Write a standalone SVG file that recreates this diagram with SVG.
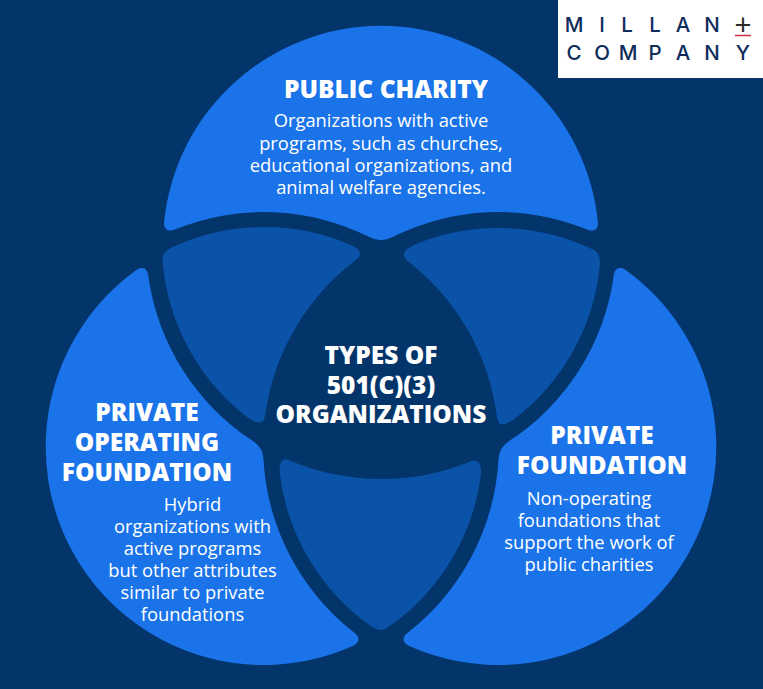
<svg xmlns="http://www.w3.org/2000/svg" xmlns:xlink="http://www.w3.org/1999/xlink" width="763" height="689" viewBox="0 0 763 689">
<style>
text{font-family:"Open Sans","Noto Sans",sans-serif;fill:#fff;text-anchor:middle}
.h{font-size:24.500px;font-weight:800}
.b{font-size:18.350px}
.petal{fill:#1a73e8}
.leaf{fill:#0b53a9}
.logo{font-family:"Inter","Liberation Sans",sans-serif;font-size:20.500px;font-weight:500;fill:#0f2d5c}
</style>
<defs>
<path id="petal" d="M164.100,222A218,218 0 0 1 597.900,222C598.500,230 593,232.500 586,229.100A235,235 0 0 0 392,237.300Q381,243.200 370,237.300A235,235 0 0 0 176,229.100C169,232.500 163.500,230 164.100,222Z"/>
<path id="leaf" d="M162.600,260Q161.700,252.600 172,247.200A220,220 0 0 1 350,244.500Q366.400,252.300 355.700,260A235,235 0 0 0 265.200,415Q263.600,428.900 247,417A219,219 0 0 1 162.600,260Z"/>
</defs>
<rect width="763" height="689" fill="#03356b"/>
<g id="leaves">
<use xlink:href="#leaf" href="#leaf" class="leaf"/>
<use xlink:href="#leaf" href="#leaf" class="leaf" transform="rotate(120 381 379.3)"/>
<use xlink:href="#leaf" href="#leaf" class="leaf" transform="rotate(240 381 379.3)"/>
</g>
<g id="public-charity">
<use xlink:href="#petal" href="#petal" class="petal"/>
<text class="h" x="386" y="98">PUBLIC CHARITY</text>
<text class="b" x="381" y="127">Organizations with active</text>
<text class="b" x="381" y="149.500">programs, such as churches,</text>
<text class="b" x="381" y="172">educational organizations, and</text>
<text class="b" x="381" y="194">animal welfare agencies.</text>
</g>
<g id="private-foundation">
<use xlink:href="#petal" href="#petal" class="petal" transform="rotate(120 381 379.3)"/>
<text class="h" x="602" y="444">PRIVATE</text>
<text class="h" x="602" y="474">FOUNDATION</text>
<text class="b" x="589" y="505">Non-operating</text>
<text class="b" x="589" y="527">foundations that</text>
<text class="b" x="589" y="549">support the work of</text>
<text class="b" x="589" y="571">public charities</text>
</g>
<g id="private-operating-foundation">
<use xlink:href="#petal" href="#petal" class="petal" transform="rotate(240 381 379.3)"/>
<text class="h" x="147" y="421">PRIVATE</text>
<text class="h" x="147" y="451">OPERATING</text>
<text class="h" x="147" y="481">FOUNDATION</text>
<text class="b" x="192.500" y="511">Hybrid</text>
<text class="b" x="192.500" y="533">organizations with</text>
<text class="b" x="192.500" y="555">active programs</text>
<text class="b" x="192.500" y="577">but other attributes</text>
<text class="b" x="192.500" y="599">similar to private</text>
<text class="b" x="192.500" y="621">foundations</text>
</g>
<g id="center">
<text class="h" x="381" y="364">TYPES OF</text>
<text class="h" x="381" y="394">501(C)(3)</text>
<text class="h" x="381" y="423">ORGANIZATIONS</text>
</g>
<g id="logo">
<rect x="558" y="0" width="205" height="78" fill="#fff"/>
<text class="logo" x="574" y="32">M</text>
<text class="logo" x="602" y="32">I</text>
<text class="logo" x="627" y="32">L</text>
<text class="logo" x="655" y="32">L</text>
<text class="logo" x="683" y="32">A</text>
<text class="logo" x="712" y="32">N</text>
<text class="logo" x="574" y="60">C</text>
<text class="logo" x="602" y="60">O</text>
<text class="logo" x="628" y="60">M</text>
<text class="logo" x="655" y="60">P</text>
<text class="logo" x="683" y="60">A</text>
<text class="logo" x="712" y="60">N</text>
<text class="logo" x="743" y="60">Y</text>
<text x="743" y="35" style="font-family:'Liberation Sans',sans-serif;font-size:29px;fill:#2b2b2b">+</text>
<line x1="735" y1="35.500" x2="751" y2="35.500" stroke="#c8323c" stroke-width="1.500"/>
</g>
</svg>
